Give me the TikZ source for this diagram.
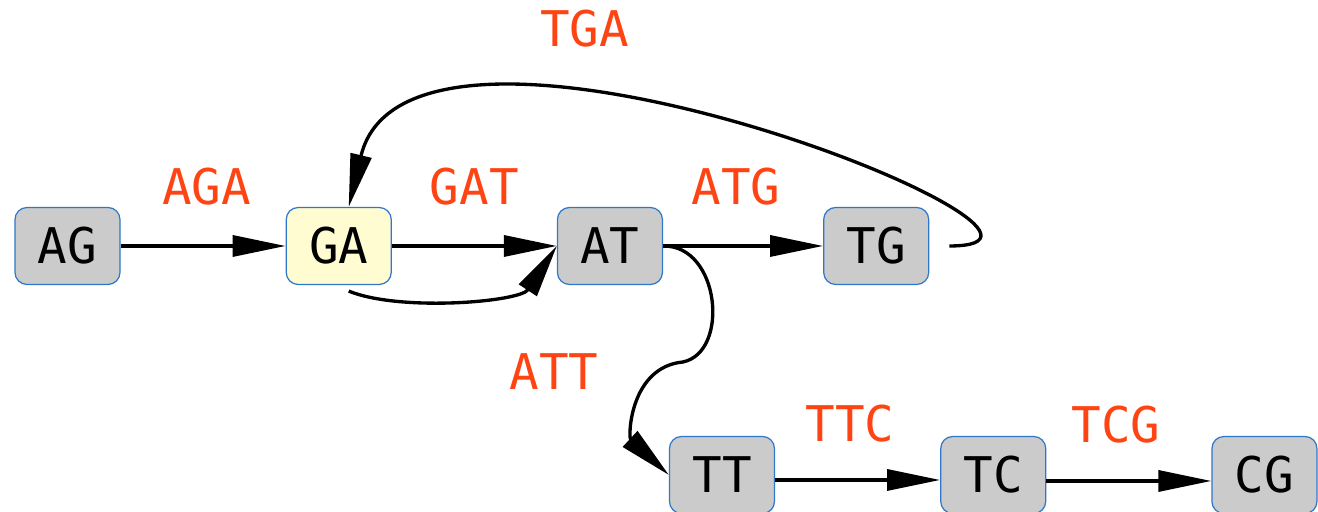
\documentclass[tikz,border=0pt]{standalone}
\usepackage{fontspec}
\setmonofont{DejaVu Sans Mono}
\usepackage{tikz}
\usetikzlibrary{positioning,arrows.meta}
\usepackage{xcolor}
\definecolor{kfill}{HTML}{CBCBCB}
\definecolor{kstart}{HTML}{FFFCD2}
\definecolor{kline}{HTML}{2F78C8}
\definecolor{klabel}{HTML}{FF4414}

\begin{document}
\begin{tikzpicture}[
  font=\ttfamily\fontsize{14}{16}\selectfont,
  kmer/.style={draw=kline, line width=0.35pt, rounded corners=1.2mm, fill=kfill,
    minimum width=10.5mm, minimum height=7.7mm, inner sep=0pt},
  lbl/.style={text=klabel, inner sep=0pt},
  arr/.style={-{Triangle[length=5.3mm, width=2.1mm]}, line width=0.95pt}
]
\useasboundingbox (0,0) rectangle (13.18,5.12);
% top row of 2-mers
\node[kmer] (nAG) at (0.675,2.66) {AG};
\node[kmer, fill=kstart, right=16.5mm of nAG] (nGA) {GA};
\node[kmer, right=16.5mm of nGA] (nAT) {AT};
\node[kmer, right=16mm of nAT] (nTG) {TG};
% bottom row
\node[kmer] (nTT) at (7.22,0.37) {TT};
\node[kmer, right=16.5mm of nTT] (nTC) {TC};
\node[kmer, right=16.5mm of nTC] (nCG) {CG};

\draw[arr] (nAG) -- (nGA) node[lbl, midway, above=3.9mm, xshift=0.35mm] {AGA};
\draw[arr] (nGA) -- (nAT.west) node[lbl, midway, above=3.9mm] {GAT};
\draw[arr] ([xshift=1mm,yshift=-0.6mm]nGA.south) .. controls (4.0,2.0) and (5.2,2.1) .. (nAT.west);
\draw[arr] (nAT) -- (nTG) node[lbl, midway, above=3.9mm, xshift=-0.7mm] {ATG};
\draw[arr] ([yshift=-0.5mm]nTT.east) -- ([yshift=-0.5mm]nTC.west)
  node[lbl, midway, above=3.6mm, xshift=-0.75mm] {TTC};
\draw[arr] ([yshift=-0.6mm]nTC.east) -- ([yshift=-0.6mm]nCG.west)
  node[lbl, midway, above=3.6mm, xshift=-1.3mm] {TCG};
% the long loop back and the S-bend down
\draw[arr] ([xshift=2mm]nTG.east) .. controls (11.4,2.66) and (4.1,5.6) .. ([xshift=1mm]nGA.north)
  node[lbl, pos=0.65, above=5.6mm, xshift=-0.6mm] {TGA};
\draw[arr] (nAT.east) .. controls (7.2,2.67) and (7.3,1.6) .. (6.83,1.5)
  .. controls (6.3,1.45) and (6.28,0.75) .. (nTT.west)
  node[lbl, pos=0.2, left=5.7mm] {ATT};
\end{tikzpicture}
\end{document}
